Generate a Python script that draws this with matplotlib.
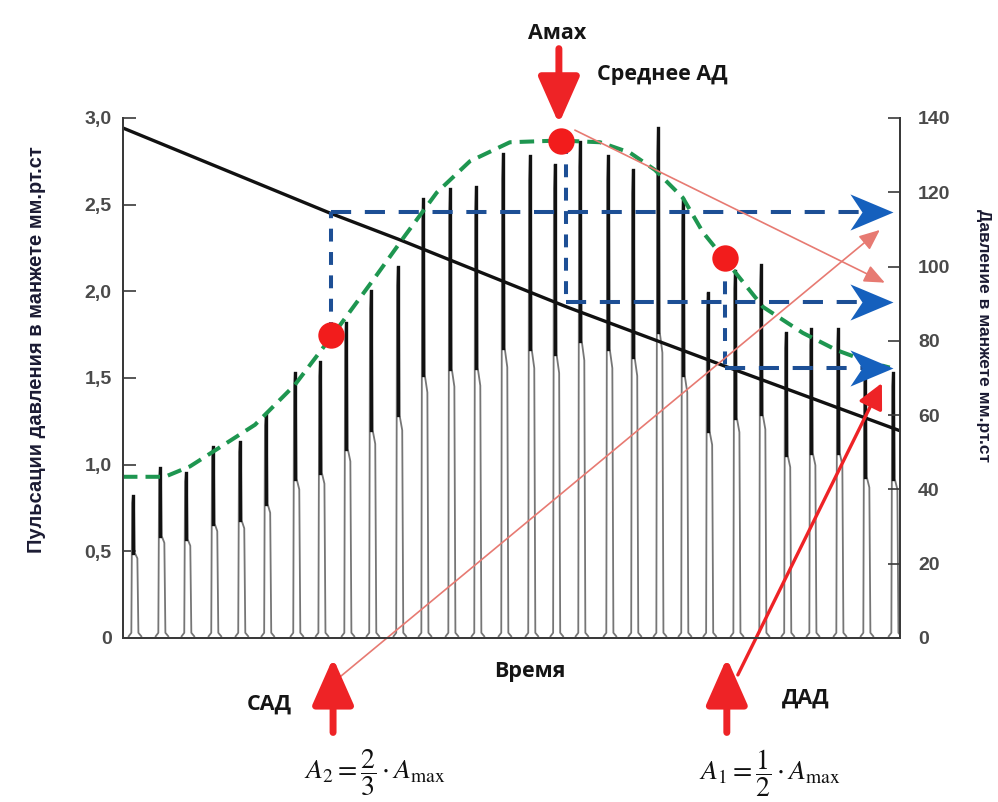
import numpy as np
import matplotlib
matplotlib.use("Agg")
import matplotlib.pyplot as plt
from matplotlib.path import Path

# ── data (time in beat units, pulses in left units, pressure in mmHg) ──
beat_t = [0.46, 1.49, 2.48, 3.51, 4.54, 5.53, 6.64, 7.60, 8.59, 9.54,
          10.57, 11.53, 12.56, 13.55, 14.58, 15.61, 16.56, 17.52, 18.59, 19.54,
          20.50, 21.45, 22.40, 23.44, 24.43, 25.38, 26.34, 27.37, 28.40, 29.47]
beat_amp = [0.82, 0.98, 0.95, 1.10, 1.13, 1.29, 1.53, 1.59, 1.82, 2.00,
            2.14, 2.53, 2.59, 2.60, 2.79, 2.78, 2.73, 2.86, 2.78, 2.70,
            2.94, 2.53, 1.99, 2.12, 2.15, 1.76, 1.78, 1.78, 1.55, 1.53]

cuff_t = [0.0, 7.90, 10.57, 16.95, 23.05, 29.58]
cuff_p = [137.3, 114.4, 107.2, 89.1, 73.0, 56.0]

env_t = [0.0, 1.60, 2.56, 3.70, 5.04, 6.56, 8.02, 9.62, 10.76, 11.98, 13.24, 14.77,
         16.68, 18.21, 19.35, 20.31, 21.37, 22.14, 23.05, 24.43, 25.95, 27.25, 28.51, 29.27]
env_a = [0.93, 0.93, 0.99, 1.10, 1.23, 1.46, 1.75, 2.08, 2.32, 2.57, 2.75, 2.86,
         2.87, 2.86, 2.80, 2.70, 2.54, 2.34, 2.17, 1.91, 1.76, 1.66, 1.59, 1.56]

dot_t = [7.94, 16.72, 22.98]          # САД, Amax, ДАД
dot_a = [1.75, 2.87, 2.19]
bp_t = [7.94, 16.93, 22.98]           # where the dashed blue lines drop
bp_p = [114.7, 90.5, 72.7]            # САД, среднее АД, ДАД (mmHg)

left_ticks = [0, 0.5, 1.0, 1.5, 2.0, 2.5, 3.0]
left_labels = ["0", "0,5", "1,0", "1,5", "2,0", "2,5", "3,0"]
right_ticks = [0, 20, 40, 60, 80, 100, 120, 140]

K = 3.0 / 140.0   # mmHg -> left units
T_MAX = 29.66

BLUE = "#1d4f95"
BLUE_HEAD = "#1560bd"
GREEN = "#1e9650"
RED = "#ee2326"
SALMON = "#e77a72"

plt.rcParams["mathtext.fontset"] = "stix"

fig = plt.figure(figsize=(9.98, 8.02), dpi=100)
ax = fig.add_axes([0.1232, 0.2045, 0.7786, 0.6484])
ax2 = ax.twinx()

ax.set_xlim(0, T_MAX)
ax.set_ylim(0, 3.0)
ax2.set_ylim(0, 140)

# ── pulses ─────────────────────────────────────────
for t, a in zip(beat_t, beat_amp):
    xs = [t - 0.24, t - 0.14, t - 0.11, t - 0.08, t - 0.04, t - 0.01, t + 0.09, t + 0.13, t + 0.24]
    ys = [0.01, 0.03, a * 0.95, a, a * 0.97, a * 0.6, a * 0.56, 0.03, 0.01]
    ax.plot(xs, ys, color="#767676", lw=1.3, zorder=2)
    ax.plot([t - 0.08, t - 0.08], [a * 0.6, a], color="#111111", lw=2.4, zorder=2)

# cuff pressure
ax.plot(cuff_t, [p * K for p in cuff_p], color="#111111", lw=2.4, zorder=3)

# envelope
ax.plot(env_t, env_a, color=GREEN, lw=2.9, dashes=(3.6, 2.0), zorder=4)

# ── blue dashed readings ───────────────────────────
tip_t = 29.39
head = Path([(0, 0), (-1, 0.42), (-0.72, 0), (-1, -0.42), (0, 0)],
            [Path.MOVETO, Path.LINETO, Path.LINETO, Path.LINETO, Path.CLOSEPOLY])
for t, a, p in zip(bp_t, dot_a, bp_p):
    ax.plot([t, t], [a, p * K], color=BLUE, lw=2.9, dashes=(3.2, 2.6), zorder=5)
    ax.plot([t, tip_t - 1.0], [p * K, p * K], color=BLUE, lw=2.9, dashes=(5.0, 3.4), zorder=5)
    ax.plot([tip_t], [p * K], marker=head, ms=62, color=BLUE_HEAD, mew=0, zorder=6)

# ── red pointer lines ──────────────────────────────
thin = dict(arrowstyle="-|>,head_length=0.7,head_width=0.3", color=SALMON, lw=1.2,
            mutation_scale=18, shrinkA=0, shrinkB=0)
ax.annotate("", xy=(29.08, 2.05), xytext=(17.25, 2.93), arrowprops=thin,
            annotation_clip=False, zorder=6)
ax.annotate("", xy=(28.89, 2.354), xytext=(8.28, -0.225), arrowprops=thin,
            annotation_clip=False, zorder=6)
ax.annotate("", xy=(28.97, 1.471), xytext=(23.47, -0.213),
            arrowprops=dict(arrowstyle="-|>,head_length=0.7,head_width=0.35", color=RED,
                            lw=2.4, mutation_scale=22, shrinkA=0, shrinkB=0),
            annotation_clip=False, zorder=6)

# big red vertical arrows
big = dict(arrowstyle="-|>,head_length=0.95,head_width=0.42", color=RED, lw=5,
           mutation_scale=30, shrinkA=0, shrinkB=0)
ax.annotate("", xy=(16.64, 2.966), xytext=(16.64, 3.40), arrowprops=big,
            annotation_clip=False, zorder=7)
ax.annotate("", xy=(dot_t[0] + 0.08, -0.115), xytext=(dot_t[0] + 0.08, -0.545),
            arrowprops=big, annotation_clip=False, zorder=7)
ax.annotate("", xy=(23.05, -0.115), xytext=(23.05, -0.545),
            arrowprops=big, annotation_clip=False, zorder=7)

# red dots
ax.plot(dot_t, dot_a, "o", color="#f21c1c", ms=19, mew=0, zorder=8)

# ── axes styling ───────────────────────────────────
for a_ in (ax, ax2):
    a_.spines["top"].set_visible(False)
    for s in ("left", "right", "bottom"):
        a_.spines[s].set_color("#3a3a3a")
        a_.spines[s].set_linewidth(1.4)
ax.set_xticks([])
ax.set_yticks(left_ticks)
ax.set_yticklabels(left_labels)
ax.tick_params(axis="y", direction="in", length=9, width=1.2, color="#3a3a3a",
               pad=8, labelsize=14, labelcolor="#4a4a4a")
ax2.set_yticks(right_ticks)
ax2.tick_params(axis="y", direction="in", length=9, width=1.2, color="#3a3a3a",
                pad=13, labelsize=14, labelcolor="#4a4a4a")
for lab in ax.get_yticklabels() + ax2.get_yticklabels():
    lab.set_family("Liberation Sans")
    lab.set_fontweight("bold")

lab_font = dict(family="Liberation Sans", fontweight="bold", color="#1b1b33")
ax.text(-0.111, 0.554, "Пульсации давления в манжете мм.рт.ст", transform=ax.transAxes,
        rotation=90, ha="center", va="center", fontsize=14.5, **lab_font)
ax.text(1.108, 0.581, "Давление в манжете мм.рт.ст", transform=ax.transAxes,
        rotation=-90, ha="center", va="center", fontsize=12.5, **lab_font)

txt = dict(family="Open Sans", fontweight="bold", color="#151515", ha="center", va="center",
           fontsize=15.5)
ax.text(16.56, 3.49, "Амах", clip_on=False, **txt)
ax.text(20.57, 3.248, "Среднее АД", clip_on=False, **txt)
ax.text(15.53, -0.196, "Время", clip_on=False, **txt)
ax.text(5.57, -0.381, "САД", clip_on=False, **txt)
ax.text(26.07, -0.346, "ДАД", clip_on=False, **txt)

ax.text(9.62, -0.779, r"$A_2 = \dfrac{2}{3}\cdot A_{\max}$", clip_on=False,
        ha="center", va="center", fontsize=20, color="#111111")
ax.text(24.69, -0.779, r"$A_1 = \dfrac{1}{2}\cdot A_{\max}$", clip_on=False,
        ha="center", va="center", fontsize=20, color="#111111")

fig.savefig("out.png", dpi=100, facecolor="white")
